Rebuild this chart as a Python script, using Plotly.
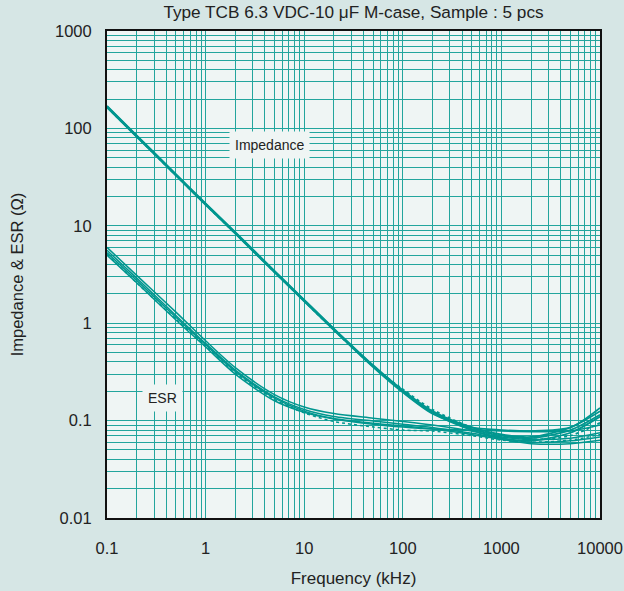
import plotly.graph_objects as go

# Frequency points (kHz)
freq = [0.1, 0.2, 0.5, 1, 2, 5, 10, 20, 50, 100, 200, 500, 1000, 2000, 5000, 10000]

# Impedance (ohm), 5 samples
z1 = [170, 85, 34, 17, 8.6, 3.45, 1.74, 0.88, 0.37, 0.205, 0.125, 0.085, 0.072, 0.068, 0.085, 0.125]
z2 = [168, 84, 33.6, 16.8, 8.5, 3.4, 1.72, 0.87, 0.365, 0.2, 0.122, 0.082, 0.07, 0.066, 0.08, 0.115]
z3 = [166, 83, 33.2, 16.6, 8.4, 3.37, 1.70, 0.86, 0.36, 0.198, 0.12, 0.08, 0.066, 0.062, 0.075, 0.11]
z4 = [165, 82.5, 33, 16.5, 8.35, 3.35, 1.69, 0.85, 0.36, 0.21, 0.13, 0.085, 0.07, 0.064, 0.07, 0.095]
z5 = [164, 82, 32.8, 16.4, 8.3, 3.32, 1.68, 0.85, 0.355, 0.195, 0.118, 0.085, 0.08, 0.078, 0.085, 0.135]

# ESR (ohm), 5 samples
e1 = [6.0, 3.1, 1.3, 0.66, 0.35, 0.185, 0.138, 0.118, 0.106, 0.098, 0.09, 0.078, 0.068, 0.064, 0.066, 0.075]
e2 = [5.6, 2.9, 1.2, 0.62, 0.33, 0.175, 0.13, 0.11, 0.099, 0.092, 0.085, 0.074, 0.066, 0.06, 0.062, 0.068]
e3 = [5.3, 2.75, 1.15, 0.6, 0.32, 0.17, 0.125, 0.105, 0.094, 0.088, 0.082, 0.072, 0.064, 0.058, 0.058, 0.063]
e4 = [5.1, 2.6, 1.1, 0.58, 0.31, 0.165, 0.12, 0.098, 0.086, 0.08, 0.078, 0.07, 0.063, 0.06, 0.063, 0.072]
e5 = [5.0, 2.6, 1.08, 0.57, 0.3, 0.16, 0.122, 0.104, 0.092, 0.086, 0.082, 0.08, 0.078, 0.077, 0.078, 0.09]

impedance = [z1, z2, z3, z4, z5]
esr = [e1, e2, e3, e4, e5]
imp_dash = ["solid", "solid", "solid", "3px,3px", "solid"]
esr_dash = ["solid", "solid", "solid", "3px,3px", "solid"]

x_tickvals = [m * 10 ** d for d in range(-1, 4) for m in range(1, 10)] + [10000]
x_labels = {0.1: "0.1", 1: "1", 10: "10", 100: "100", 1000: "1000", 10000: "10000"}
y_tickvals = [m * 10 ** d for d in range(-2, 3) for m in range(1, 10)] + [1000]
y_labels = {0.01: "0.01", 0.1: "0.1", 1: "1", 10: "10", 100: "100", 1000: "1000"}


def label_for(v, labels):
    for k, t in labels.items():
        if abs(v - k) / k < 1e-9:
            return t
    return ""


LINE = "#00968f"
GRID = "#23a59d"
PAPER = "#d6e6e5"
PLOT = "#eff5f4"
FONT = "Liberation Sans, Arial, Helvetica, sans-serif"

fig = go.Figure()
for ys, d in zip(impedance, imp_dash):
    fig.add_trace(go.Scatter(x=freq, y=ys, mode="lines", line=dict(color=LINE, width=1.8, dash=d, shape="spline", smoothing=0.8),
                             showlegend=False, hoverinfo="skip"))
for ys, d in zip(esr, esr_dash):
    fig.add_trace(go.Scatter(x=freq, y=ys, mode="lines", line=dict(color=LINE, width=1.5, dash=d, shape="spline", smoothing=0.8),
                             showlegend=False, hoverinfo="skip"))

fig.add_annotation(x=0.6485, y=1.833, xref="x", yref="y", text="Impedance", showarrow=False,
                   font=dict(size=14, color="#222222", family=FONT), bgcolor=PLOT, borderpad=5)
fig.add_annotation(x=-0.437, y=-0.765, xref="x", yref="y", text="ESR", showarrow=False,
                   font=dict(size=14, color="#222222", family=FONT), bgcolor=PLOT, borderpad=5)

fig.update_layout(
    width=624, height=591,
    margin=dict(l=107, r=24, t=31, b=73, autoexpand=False),
    paper_bgcolor=PAPER, plot_bgcolor=PLOT,
    font=dict(family=FONT, color="#222222", size=16.5),
    title=dict(text="Type TCB 6.3 VDC-10 μF M-case, Sample : 5 pcs", x=0.5665, xanchor="center",
               yref="container", y=0.979, yanchor="middle", font=dict(size=17.2)),
)
fig.update_xaxes(type="log", range=[-1, 4], tickmode="array", tickvals=x_tickvals,
                 ticktext=[label_for(v, x_labels) for v in x_tickvals],
                 showgrid=True, gridcolor=GRID, gridwidth=1.3, ticks="", ticklabelstandoff=14,
                 showline=True, linecolor="#111111", linewidth=2, mirror=True, automargin=False,
                 title=dict(text="Frequency (kHz)", standoff=16, font=dict(size=17)), zeroline=False)
fig.update_yaxes(type="log", range=[-2, 3], tickmode="array", tickvals=y_tickvals,
                 ticktext=[label_for(v, y_labels) for v in y_tickvals],
                 showgrid=True, gridcolor=GRID, gridwidth=1.3, ticks="", ticklabelstandoff=10,
                 showline=True, linecolor="#111111", linewidth=2, mirror=True, automargin=False,
                 title=dict(text="Impedance & ESR (Ω)", standoff=27, font=dict(size=16.5)), zeroline=False)

fig.write_html("out.html")
